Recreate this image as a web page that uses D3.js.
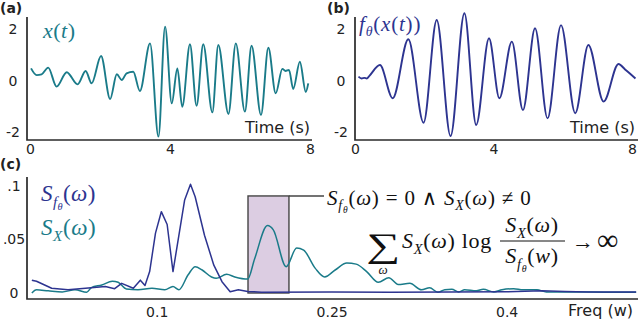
<!DOCTYPE html>
<html>
<head>
<meta charset="utf-8">
<script src="https://cdn.jsdelivr.net/npm/d3@7"></script>
<style>
  body { margin: 0; background: #fff; }
  text { font-family: "DejaVu Sans", sans-serif; fill: #222; }
  .math { font-family: "Liberation Serif", "DejaVu Serif", serif; white-space: pre; }
</style>
</head>
<body>
<svg width="640" height="323"></svg>
<script>
// ---- data ----
var timeA = [0.03,0.19,0.33,0.52,0.76,1.05,1.36,1.59,1.76,2.03,2.29,2.48,2.62,2.76,2.95,3.14,3.43,3.67,3.86,4.05,4.21,4.35,4.57,4.76,4.95,5.21,5.38,5.67,5.88,6.14,6.33,6.6,6.81,7.02,7.21,7.3,7.4,7.52,7.71,7.88,7.95];
var ampA  = [0.49,0.23,0.26,0.52,-0.22,0.34,-0.13,0.39,-0.09,0.97,-0.70,0.26,0.04,0.30,0.36,-0.39,1.46,-2.16,2.11,-0.87,0.49,-1.0,1.43,-0.96,1.43,-1.22,1.40,-1.28,1.46,-1.19,1.37,-1.32,1.29,-0.48,0.47,0.39,0.43,-0.31,0.75,-0.42,-0.09];

var timeB = [0.1,0.19,0.27,0.34,0.41,0.72,1.09,1.54,1.98,2.36,2.76,3.16,3.5,3.87,4.17,4.53,4.85,5.2,5.56,5.95,6.36,6.74,7.18,7.61,7.8,7.93,8.1];
var ampB  = [0.17,0.1,0.12,0.1,0.19,0.62,-0.67,1.62,-1.62,2.37,-2.14,2.63,-1.71,1.66,-0.67,1.53,-1.13,2.05,-1.45,2.17,-1.25,1.40,-0.8,0.66,0.45,0.30,0.1];

var freqF = [-0.007,-0.003,0.010,0.024,0.039,0.056,0.064,0.070,0.080,0.086,0.090,0.094,0.099,0.104,0.109,0.114,0.124,0.129,0.133,0.141,0.149,0.156,0.163,0.170,0.178,0.19,0.25,0.30,0.35,0.40,0.43,0.45,0.47,0.511];
var powF  = [0.012,0.011,0.0044,0.003,0.0044,0.006,0.004,0.009,0.0044,0.012,0.007,0.020,0.056,0.076,0.064,0.020,0.087,0.1016,0.090,0.054,0.026,0.0106,0.0012,0.003,0.0015,0.0008,0.001,0.0008,0.001,0.0012,0.002,0.0015,0.001,0.001];

var freqX = [-0.007,-0.003,0.007,0.019,0.030,0.040,0.044,0.053,0.062,0.067,0.074,0.084,0.096,0.107,0.114,0.119,0.127,0.133,0.139,0.147,0.151,0.160,0.167,0.178,0.184,0.195,0.200,0.211,0.220,0.226,0.236,0.244,0.253,0.263,0.271,0.280,0.290,0.299,0.307,0.317,0.327,0.334,0.341,0.347,0.353,0.359,0.364,0.374,0.380,0.389,0.396,0.406,0.414,0.426,0.434,0.457,0.486,0.511];
var powX  = [0.0,0.003,0.002,0.001,0.003,0.0007,0.005,0.0075,0.011,0.010,0.0037,0.003,0.0044,0.003,0.006,0.003,0.017,0.0246,0.0215,0.015,0.0137,0.0175,0.015,0.013,0.032,0.063,0.059,0.0246,0.042,0.040,0.023,0.015,0.0215,0.028,0.027,0.020,0.010,0.0143,0.008,0.009,0.003,0.005,0.0007,0.003,0.0035,0.001,0.003,0.002,0.0035,0.001,0.003,0.004,0.003,0.003,0.001,0.001,0.0007,0.0007];

var timeTicks = [0, 4, 8];
var ampTicks = [-2, 0, 2];
var freqTicks = [0.1, 0.25, 0.4];
var freqTickLabels = ["0.1", "0.25", "0.4"];
var powTicks = [0, 0.05, 0.1];
var powTickLabels = ["0", ".05", ".1"];
var band = [0.1783, 0.2134], bandTop = 0.0907;

var teal = "#1a7b89", navy = "#2d3490";

var svg = d3.select("svg");
svg.append("rect").attr("width", 640).attr("height", 323).attr("fill", "#fff");

// scales
var xA = d3.scaleLinear().domain([0, 8]).range([30, 310]),
    xB = d3.scaleLinear().domain([0, 8]).range([355, 632]),
    yT = d3.scaleLinear().domain([-2, 2]).range([132.5, 29.5]),
    xC = d3.scaleLinear().domain([0, 0.5]).range([40, 623.3]),
    yC = d3.scaleLinear().domain([0, 0.1]).range([293, 186]);

function axisLines(x0, x1, yTop, yBot) {
  svg.append("path")
    .attr("d", "M" + x0 + "," + yTop + "V" + yBot + "H" + x1)
    .attr("fill", "none").attr("stroke", "#2a2a2a").attr("stroke-width", 1.7);
}

function bottomAxis(scale, y, vals, labels, pad) {
  var g = svg.append("g").attr("transform", "translate(0," + y + ")")
    .call(d3.axisBottom(scale).tickValues(vals).tickSize(0).tickPadding(pad)
      .tickFormat(function(d, i) { return labels ? labels[i] : d; }));
  g.select(".domain").remove();
  g.selectAll("text").attr("font-size", 14).attr("font-family", null).attr("fill", "#222");
}

function leftAxis(scale, x, vals, labels, cx) {
  var g = svg.append("g").attr("transform", "translate(" + x + ",0)")
    .call(d3.axisLeft(scale).tickValues(vals).tickSize(0)
      .tickFormat(function(d, i) { return labels ? labels[i] : d; }));
  g.select(".domain").remove();
  g.selectAll("text").attr("font-size", 14).attr("font-family", null).attr("fill", "#222")
    .attr("text-anchor", "middle").attr("x", cx - x);
}

// math text helper: runs of [string, italic, level]
function mathText(x, y, size, runs, color, anchor, spacing) {
  var t = svg.append("text").attr("class", "math").attr("x", x).attr("y", y)
    .attr("font-size", size).attr("text-anchor", anchor || "start")
    .attr("letter-spacing", spacing || 0).style("fill", color || "#111");
  var cur = 0;
  runs.forEach(function(r) {
    var lv = r[2] || 0;
    var off = [0, 0.26, 0.4][lv] * size;
    t.append("tspan").attr("dy", off - cur)
      .attr("font-size", [1, 0.66, 0.45][lv] * size)
      .attr("font-style", r[1] ? "italic" : "normal")
      .text(r[0]);
    cur = off;
  });
  return t;
}

// ---- panel (a) ----
axisLines(27, 312, 17, 140);
bottomAxis(xA, 140, timeTicks, null, 4);
leftAxis(yT, 27, ampTicks, ["-2", "0", "2"], 13);
svg.append("path").datum(d3.zip(timeA, ampA))
  .attr("d", d3.line().x(function(d) { return xA(d[0]); }).y(function(d) { return yT(d[1]); }).curve(d3.curveMonotoneX))
  .attr("fill", "none").attr("stroke", teal).attr("stroke-width", 1.9).attr("stroke-linejoin", "round");
svg.append("text").attr("x", 310).attr("y", 133).attr("text-anchor", "end").attr("font-size", 16).text("Time (s)");
svg.append("text").attr("x", 0).attr("y", 13).attr("font-size", 14).attr("font-weight", "bold").text("(a)");
mathText(43, 38, 22, [["x", 1], ["(", 0], ["t", 1], [")", 0]], teal, null, 0.5);

// ---- panel (b) ----
axisLines(355, 638, 17, 140);
bottomAxis(xB, 140, timeTicks, null, 4);
leftAxis(yT, 355, ampTicks, ["-2", "0", "2"], 341);
svg.append("path").datum(d3.zip(timeB, ampB))
  .attr("d", d3.line().x(function(d) { return xB(d[0]); }).y(function(d) { return yT(d[1]); }).curve(d3.curveMonotoneX))
  .attr("fill", "none").attr("stroke", navy).attr("stroke-width", 1.9).attr("stroke-linejoin", "round");
svg.append("text").attr("x", 635).attr("y", 133).attr("text-anchor", "end").attr("font-size", 16).text("Time (s)");
svg.append("text").attr("x", 327).attr("y", 13).attr("font-size", 14).attr("font-weight", "bold").text("(b)");
mathText(359, 31, 21, [["f", 1], ["θ", 1, 1], ["(", 0], ["x", 1], ["(", 0], ["t", 1], ["))", 0]], navy, null, 0.8);

// ---- panel (c) ----
svg.append("rect")
  .attr("x", xC(band[0])).attr("y", yC(bandTop))
  .attr("width", xC(band[1]) - xC(band[0])).attr("height", yC(0) - yC(bandTop))
  .attr("fill", "#dccde2").attr("stroke", "#444").attr("stroke-width", 1.4);
svg.append("line")
  .attr("x1", xC(band[1])).attr("x2", 324).attr("y1", yC(bandTop)).attr("y2", yC(bandTop))
  .attr("stroke", "#444").attr("stroke-width", 1.4);

var lineC = d3.line().x(function(d) { return xC(d[0]); }).y(function(d) { return yC(d[1]); });
svg.append("path").datum(d3.zip(freqX, powX))
  .attr("d", lineC.curve(d3.curveMonotoneX))
  .attr("fill", "none").attr("stroke", teal).attr("stroke-width", 1.5).attr("stroke-linejoin", "round");
svg.append("path").datum(d3.zip(freqF, powF))
  .attr("d", lineC.curve(d3.curveLinear))
  .attr("fill", "none").attr("stroke", navy).attr("stroke-width", 1.5).attr("stroke-linejoin", "round");

axisLines(27, 638, 177, 299);
bottomAxis(xC, 299, freqTicks, freqTickLabels, 8);
leftAxis(yC, 27, powTicks, powTickLabels, 14);
svg.append("text").attr("x", 633).attr("y", 316).attr("text-anchor", "end").attr("font-size", 16).text("Freq (w)");
svg.append("text").attr("x", 0).attr("y", 169).attr("font-size", 14).attr("font-weight", "bold").text("(c)");

mathText(41, 201, 23, [["S", 1], ["f", 1, 1], ["θ", 1, 2], ["(", 0], ["ω", 1], [")", 0]], navy, null, 0.4);
mathText(41, 235, 23, [["S", 1], ["X", 1, 1], ["(", 0], ["ω", 1], [")", 0]], teal, null, 0.6);

mathText(327, 205, 21, [["S", 1], ["f", 1, 1], ["θ", 1, 2], ["(", 0], ["ω", 1], [") = 0 ∧ ", 0], ["S", 1], ["X", 1, 1], ["(", 0], ["ω", 1], [") ≠ 0", 0]], null, null, 0.8);

// summation sign, stretched a little to the wide display style
svg.append("text").attr("class", "math")
  .attr("transform", "translate(383,257) scale(1.4,1)").attr("text-anchor", "middle")
  .attr("font-size", 34).style("fill", "#111").text("∑");
svg.append("text").attr("class", "math").attr("x", 383).attr("y", 274).attr("text-anchor", "middle")
  .attr("font-size", 13).attr("font-style", "italic").style("fill", "#111").text("ω");
mathText(402, 248, 22, [["S", 1], ["X", 1, 1], ["(", 0], ["ω", 1], [") log", 0]], null, null, 0.7);
mathText(532, 232, 22, [["S", 1], ["X", 1, 1], ["(", 0], ["ω", 1], [")", 0]], null, "middle", 0.7);
svg.append("line").attr("x1", 500).attr("x2", 565).attr("y1", 241).attr("y2", 241)
  .attr("stroke", "#111").attr("stroke-width", 1);
mathText(532, 263, 22, [["S", 1], ["f", 1, 1], ["θ", 1, 2], ["(", 0], ["w", 1], [")", 0]], null, "middle", 0.7);
mathText(572, 249, 22, [["→", 0]]);
mathText(597, 250, 30, [["∞", 0]]);
</script>
</body>
</html>
